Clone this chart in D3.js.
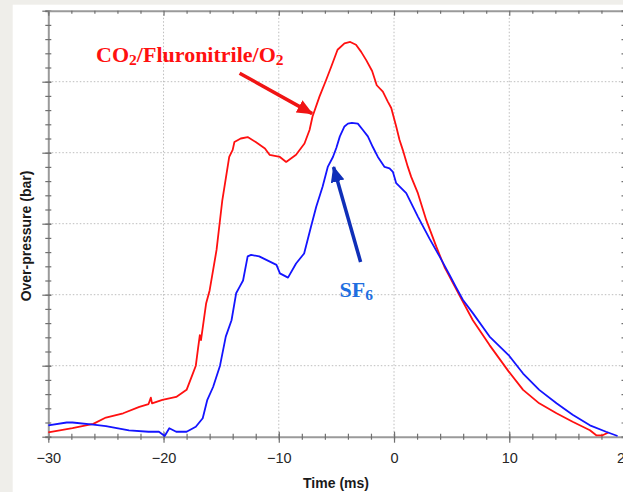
<!DOCTYPE html>
<html>
<head>
<meta charset="utf-8">
<script src="https://cdn.jsdelivr.net/npm/d3@7"></script>
<style>
    html, body { margin: 0; padding: 0; background: #efeeea; }
    svg { display: block; }
</style>
</head>
<body>
<svg id="chart" width="623" height="492"></svg>
<script>
// Red trace (CO2/Fluronitrile/O2), time in ms, over-pressure in grid units
const redTime = [-30, -27.9, -26.1, -25, -23.5, -22.1, -21.3, -21.1, -21.0, -20.1, -18.9, -18.0, -17.5, -17.2,
    -17.0, -16.85, -16.75, -16.45, -16.3, -16.0, -15.4, -14.9, -14.3, -14.0, -13.85, -13.3, -12.7, -12.0,
    -11.2, -10.8, -9.9, -9.36, -8.5, -7.77, -7.33, -7.07, -6.47, -5.9, -5.45, -4.9, -4.3, -3.8, -3.3, -2.85,
    -2.4, -1.9, -1.5, -0.97, -0.54, -0.24, 0.19, 0.48, 0.76, 1.2, 1.49, 2.07, 2.8, 3.66, 4.38, 4.67, 5.68,
    6.84, 8.29, 9.94, 11.2, 12.6, 14.1, 15.5, 17.0, 17.55, 18.1, 18.6];
const redPressure = [0.06, 0.12, 0.18, 0.27, 0.33, 0.42, 0.46, 0.55, 0.47, 0.52, 0.56, 0.66, 0.87, 1.0,
    1.25, 1.43, 1.36, 1.71, 1.88, 2.06, 2.63, 3.33, 3.94, 4.04, 4.15, 4.2, 4.22, 4.15,
    4.06, 3.97, 3.94, 3.87, 3.97, 4.13, 4.32, 4.51, 4.79, 5.02, 5.21, 5.45, 5.54, 5.56, 5.52, 5.42,
    5.3, 5.15, 4.95, 4.86, 4.72, 4.63, 4.37, 4.18, 4.04, 3.8, 3.66, 3.43, 3.05, 2.68, 2.39, 2.3, 1.99,
    1.64, 1.29, 0.92, 0.66, 0.47, 0.33, 0.21, 0.09, 0.02, 0.02, 0.06];

// Blue trace (SF6)
const blueTime = [-30, -28.4, -27.9, -26.1, -25, -23, -21.3, -20.4, -19.9, -19.5, -18.9, -18.0, -17.2, -16.6,
    -16.2, -15.7, -15.1, -14.6, -14.1, -13.7, -13.4, -13.1, -12.7, -12.4, -11.7, -10.2, -9.9, -9.2, -8.5,
    -7.8, -7.2, -6.75, -6.2, -5.75, -5.3, -5.0, -4.7, -4.3, -4.0, -3.66, -3.14, -2.7, -2.27, -1.84, -1.4,
    -0.82, -0.39, -0.1, 0.19, 1.06, 2.07, 3.08, 3.95, 4.82, 5.4, 5.97, 6.84, 8.29, 9.94, 11.2, 12.6, 14.1,
    15.5, 17.0, 18.4, 19.4];
const bluePressure = [0.16, 0.2, 0.2, 0.17, 0.15, 0.09, 0.07, 0.07, 0.01, 0.12, 0.07, 0.07, 0.14, 0.26,
    0.52, 0.7, 1.0, 1.41, 1.64, 2.02, 2.11, 2.2, 2.54, 2.56, 2.54, 2.42, 2.3, 2.24, 2.44,
    2.58, 2.96, 3.24, 3.52, 3.8, 3.94, 4.07, 4.23, 4.37, 4.41, 4.42, 4.41, 4.32, 4.23, 4.08, 3.94,
    3.8, 3.78, 3.73, 3.57, 3.43, 3.1, 2.79, 2.54, 2.28, 2.1, 1.93, 1.74, 1.41, 1.15, 0.89, 0.66, 0.47,
    0.31, 0.16, 0.07, 0.01];

const xTicks = [-30, -20, -10, 0, 10, 20];
const yTicks = [0, 1, 2, 3, 4, 5, 6];

const svgTag = d3.select('#chart');

const layout = {
    left: 48.3,
    top: 10.7,
    width: 576.2,
    height: 426
};

const xScale = d3.scaleLinear().domain([-30, 20]).range([0, layout.width]);
const yScale = d3.scaleLinear().domain([0, 6]).range([layout.height, 0]);

function zip(times, values) {
    return times.map((t, i) => ({ t: t, v: values[i] }));
}

// white panel behind the plot
svgTag.append('rect')
    .attr('x', 12.7).attr('y', 4.7)
    .attr('width', 623).attr('height', 492)
    .attr('fill', '#ffffff');

const chart = svgTag.append('g')
    .attr('transform', `translate(${layout.left}, ${layout.top})`);

function drawGrid() {
    const grid = chart.append('g')
        .attr('stroke', '#bdbdbd')
        .attr('stroke-width', 1)
        .attr('stroke-dasharray', '1.5,2');
    grid.selectAll(null)
        .data(xTicks.slice(1, -1))
        .enter()
        .append('line')
        .attr('x1', (d) => xScale(d)).attr('x2', (d) => xScale(d))
        .attr('y1', 0).attr('y2', layout.height);
    grid.selectAll(null)
        .data(yTicks.slice(1, -1))
        .enter()
        .append('line')
        .attr('x1', 0).attr('x2', layout.width)
        .attr('y1', (d) => yScale(d)).attr('y2', (d) => yScale(d));
}

function styleAxis(g) {
    g.select('.domain').attr('stroke', '#9a9a9a').attr('stroke-width', 2);
    g.selectAll('.tick line').attr('stroke', '#6f6f6f').attr('stroke-width', 1.2);
}

function drawAxes() {
    const minorX = d3.range(-30, 20.1, 2);
    const minorY = d3.range(0, 6.01, 0.2);

    // minor ticks straddle the frame
    const bottomMinor = chart.append('g')
        .attr('transform', `translate(0, ${layout.height})`)
        .call(d3.axisBottom(xScale).tickValues(minorX).tickSize(3).tickFormat(''));
    bottomMinor.selectAll('.tick line').attr('y1', -3);
    styleAxis(bottomMinor);

    const bottom = chart.append('g')
        .attr('transform', `translate(0, ${layout.height})`)
        .call(d3.axisBottom(xScale).tickValues(xTicks).tickSize(6).tickPadding(10));
    bottom.selectAll('.tick line').attr('y1', -5);
    bottom.select('.domain').remove();
    styleAxis(bottom);
    bottom.selectAll('text')
        .attr('fill', '#262626')
        .style('font-family', 'Liberation Sans, Arial, sans-serif')
        .style('font-size', '14.5px');

    const leftMinor = chart.append('g')
        .call(d3.axisLeft(yScale).tickValues(minorY).tickSize(3).tickFormat(''));
    leftMinor.selectAll('.tick line').attr('x1', 3);
    styleAxis(leftMinor);

    const left = chart.append('g')
        .call(d3.axisLeft(yScale).tickValues(yTicks).tickSize(6).tickFormat(''));
    left.selectAll('.tick line').attr('x1', 3);
    left.select('.domain').remove();
    styleAxis(left);

    const top = chart.append('g')
        .call(d3.axisBottom(xScale).tickValues(minorX).tickSize(3).tickFormat(''));
    top.selectAll('.tick line').filter((d) => xTicks.includes(d)).attr('y2', 5);
    styleAxis(top);

    const right = chart.append('g')
        .attr('transform', `translate(${layout.width}, 0)`)
        .call(d3.axisLeft(yScale).tickValues(minorY).tickSize(3).tickFormat(''));
    styleAxis(right);
}

function drawSeries(data, color) {
    const line = d3.line()
        .x((d) => xScale(d.t))
        .y((d) => yScale(d.v));
    chart.append('path')
        .datum(data)
        .attr('fill', 'none')
        .attr('stroke', color)
        .attr('stroke-width', 1.8)
        .attr('stroke-linejoin', 'round')
        .attr('d', line);
}

function drawArrow(id, color, from, to) {
    svgTag.select('defs').empty() && svgTag.append('defs');
    svgTag.select('defs').append('marker')
        .attr('id', id)
        .attr('markerUnits', 'userSpaceOnUse')
        .attr('viewBox', '0 0 16 14')
        .attr('refX', 15).attr('refY', 7)
        .attr('markerWidth', 16).attr('markerHeight', 14)
        .attr('orient', 'auto')
        .append('path')
        .attr('d', 'M0,0 L16,7 L0,14 Z')
        .attr('fill', color);
    chart.append('line')
        .attr('x1', xScale(from[0])).attr('y1', yScale(from[1]))
        .attr('x2', xScale(to[0])).attr('y2', yScale(to[1]))
        .attr('stroke', color)
        .attr('stroke-width', 3.5)
        .attr('marker-end', `url(#${id})`);
}

function drawLabel(parts, color, at) {
    const text = chart.append('text')
        .attr('x', xScale(at[0]))
        .attr('y', yScale(at[1]))
        .attr('fill', color)
        .attr('font-weight', 'bold')
        .style('font-family', 'Liberation Serif, Times New Roman, serif')
        .style('font-size', '22px');
    parts.forEach((p) => {
        if (p.sub) {
            text.append('tspan').text(p.sub).attr('dy', 3).style('font-size', '15.5px');
        } else {
            text.append('tspan').text(p.text).attr('dy', p.after ? -3 : 0);
        }
    });
}

drawGrid();
drawAxes();
drawSeries(zip(redTime, redPressure), '#ff1010');
drawSeries(zip(blueTime, bluePressure), '#1414ff');

drawLabel([{ text: 'CO' }, { sub: '2' }, { text: '/Fluronitrile/O', after: true }, { sub: '2' }],
    '#ff1010', [-25.85, 5.28]);
drawArrow('red-head', '#f01414', [-13.4, 5.12], [-7.1, 4.55]);

drawLabel([{ text: 'SF' }, { sub: '6' }], '#1f6fe0', [-4.73, 1.97]);
drawArrow('blue-head', '#0f2fb8', [-2.9, 2.46], [-5.25, 3.8]);

svgTag.append('text')
    .text('Time (ms)')
    .attr('x', 336)
    .attr('y', 488)
    .attr('text-anchor', 'middle')
    .attr('font-weight', 'bold')
    .attr('fill', '#1a1a1a')
    .style('font-family', 'Liberation Sans, Arial, sans-serif')
    .style('font-size', '14px');

svgTag.append('text')
    .text('Over-pressure (bar)')
    .attr('transform', 'translate(31, 236) rotate(-90)')
    .attr('text-anchor', 'middle')
    .attr('font-weight', 'bold')
    .attr('fill', '#1a1a1a')
    .style('font-family', 'Liberation Sans, Arial, sans-serif')
    .style('font-size', '14px');
</script>
</body>
</html>
